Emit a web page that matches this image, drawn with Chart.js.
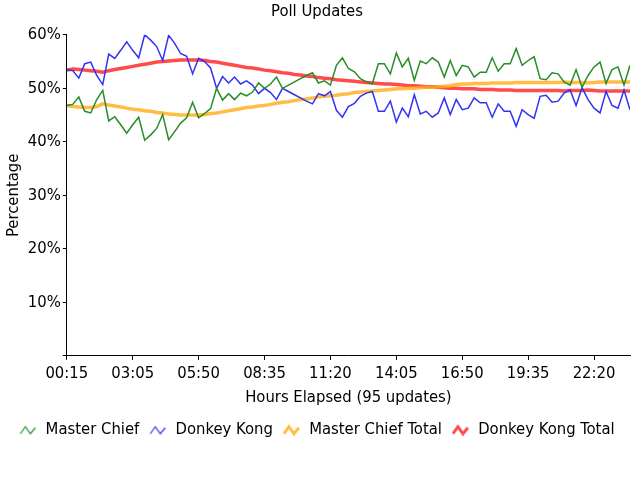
<!DOCTYPE html>
<html>
<head>
<meta charset="utf-8">
<script src="https://cdn.jsdelivr.net/npm/chart.js@4/dist/chart.umd.min.js"></script>
<style>
  html, body { margin: 0; padding: 0; background: #fff; }
  #wrap { width: 640px; height: 480px; }
</style>
</head>
<body>
<div id="wrap"><canvas id="poll"></canvas></div>
<script>
// tick labels shown every 11 updates
var tickLabels = ["00:15", "03:05", "05:50", "08:35", "11:20", "14:05", "16:50", "19:35", "22:20"];

var masterChief = [
  46.8, 47.0, 48.4, 45.7, 45.4, 47.9, 49.6, 43.9, 44.7, 43.2,
  41.6, 43.2, 44.6, 40.3, 41.3, 42.5, 45.1, 40.4, 41.9, 43.5,
  44.5, 47.4, 44.5, 45.3, 46.2, 50.0, 47.8, 49.0, 47.9, 49.1,
  48.6, 49.3, 51.0, 50.0, 50.8, 52.1, 50.0, 50.6, 51.2, 51.8,
  52.4, 52.9, 51.0, 51.4, 50.6, 54.3, 55.7, 53.7, 53.1, 51.8,
  51.2, 50.9, 54.6, 54.6, 52.7, 56.6, 54.0, 55.6, 51.5, 55.1,
  54.6, 55.7, 54.9, 52.1, 55.2, 52.4, 54.3, 54.0, 52.1, 53.0,
  53.0, 55.7, 53.2, 54.6, 54.6, 57.4, 54.3, 55.2, 55.9, 51.8,
  51.6, 52.9, 52.7, 51.2, 50.6, 53.5, 50.2, 52.4, 54.0, 54.9,
  50.9, 53.5, 54.0, 50.6, 54.3
];

var donkeyKong = [
  53.5, 53.3, 51.9, 54.6, 54.9, 52.4, 50.7, 56.4, 55.6, 57.1,
  58.7, 57.1, 55.7, 60.0, 59.0, 57.8, 55.2, 59.9, 58.4, 56.5,
  56.0, 52.7, 55.6, 55.0, 53.8, 50.0, 52.2, 51.0, 52.1, 50.8,
  51.4, 50.6, 49.0, 50.0, 49.2, 47.9, 50.0, 49.4, 48.8, 48.2,
  47.6, 47.1, 49.0, 48.6, 49.4, 45.9, 44.6, 46.6, 47.2, 48.5,
  49.1, 49.4, 45.7, 45.7, 47.6, 43.7, 46.3, 44.7, 48.8, 45.2,
  45.7, 44.6, 45.4, 48.2, 45.1, 47.9, 46.0, 46.3, 48.2, 47.3,
  47.3, 44.6, 47.1, 45.7, 45.7, 42.9, 46.0, 45.1, 44.4, 48.5,
  48.7, 47.4, 47.6, 49.1, 49.7, 46.8, 50.1, 47.9, 46.3, 45.4,
  49.4, 46.8, 46.3, 49.7, 46.0
];

var masterChiefTotal = [
  46.8, 46.6, 46.5, 46.4, 46.4, 46.6, 47.1, 46.9, 46.7, 46.5,
  46.3, 46.1, 46.0, 45.8, 45.7, 45.5, 45.4, 45.2, 45.1, 45.0,
  45.0, 45.0, 45.0, 45.1, 45.3, 45.4, 45.6, 45.8, 46.0, 46.2,
  46.4, 46.5, 46.7, 46.8, 47.0, 47.2, 47.4, 47.5, 47.7, 47.9,
  48.0, 48.2, 48.4, 48.5, 48.6, 48.7, 48.9, 49.0, 49.2, 49.3,
  49.4, 49.5, 49.6, 49.7, 49.8, 49.9, 49.9, 50.0, 50.0, 50.1,
  50.2, 50.2, 50.3, 50.4, 50.5, 50.7, 50.8, 50.8, 50.9, 50.9,
  50.9, 51.0, 51.0, 51.0, 51.0, 51.1, 51.1, 51.1, 51.1, 51.1,
  51.1, 51.1, 51.1, 51.2, 51.1, 51.1, 51.1, 51.0, 51.1, 51.2,
  51.2, 51.2, 51.2, 51.2, 51.2
];

var donkeyKongTotal = [
  53.4, 53.6, 53.5, 53.4, 53.3, 53.2, 53.0, 53.3, 53.5, 53.7,
  53.9, 54.1, 54.3, 54.5, 54.7, 54.9, 55.0, 55.1, 55.2, 55.3,
  55.3, 55.3, 55.3, 55.2, 55.0, 54.9, 54.7, 54.5, 54.3, 54.1,
  53.9, 53.8, 53.6, 53.4, 53.3, 53.1, 52.9, 52.8, 52.6, 52.5,
  52.3, 52.2, 52.0, 51.9, 51.8, 51.6, 51.5, 51.4, 51.3, 51.2,
  51.1, 51.0, 50.9, 50.8, 50.8, 50.7, 50.6, 50.5, 50.5, 50.4,
  50.3, 50.3, 50.2, 50.1, 50.0, 50.0, 49.9, 49.9, 49.9, 49.8,
  49.8, 49.8, 49.7, 49.7, 49.7, 49.6, 49.6, 49.6, 49.6, 49.6,
  49.6, 49.6, 49.6, 49.5, 49.6, 49.6, 49.6, 49.7, 49.6, 49.5,
  49.5, 49.5, 49.5, 49.5, 49.5
];

var FONT = "'Liberation Sans Narrow', 'DejaVu Sans Condensed', 'Arial Narrow', sans-serif";
var FS = 16.5;

function zigzag(color, width) {
  var c = document.createElement('canvas');
  c.width = 18; c.height = 12;
  var g = c.getContext('2d');
  g.strokeStyle = color;
  g.lineWidth = width;
  g.lineJoin = 'miter';
  g.beginPath();
  g.moveTo(1, 10);
  g.lineTo(6, 3);
  g.lineTo(11, 10);
  g.lineTo(16, 4);
  g.stroke();
  return c;
}

function points(arr) {
  return arr.map(function (v, i) { return { x: i, y: v }; });
}

var green = 'rgb(40,140,40)';
var blue = 'rgb(50,50,245)';
var orange = 'rgba(255,172,20,0.8)';
var red = 'rgba(255,30,30,0.8)';

new Chart(document.getElementById("poll"), {
  type: 'line',
  data: {
    datasets: [
      { label: 'Master Chief', data: points(masterChief), borderColor: green,
        borderWidth: 1.5, pointRadius: 0, pointStyle: zigzag(green, 1.2), tension: 0 },
      { label: 'Donkey Kong', data: points(donkeyKong), borderColor: blue,
        borderWidth: 1.5, pointRadius: 0, pointStyle: zigzag(blue, 1.2), tension: 0 },
      { label: 'Master Chief Total', data: points(masterChiefTotal), borderColor: orange,
        borderWidth: 3.5, pointRadius: 0, pointStyle: zigzag(orange, 3), tension: 0 },
      { label: 'Donkey Kong Total', data: points(donkeyKongTotal), borderColor: red,
        borderWidth: 3.5, pointRadius: 0, pointStyle: zigzag(red, 3), tension: 0 }
    ]
  },
  options: {
    responsive: true,
    maintainAspectRatio: false,
    animation: false,
    layout: { padding: { left: 4, right: 10, top: 0, bottom: 32 } },
    plugins: {
      title: {
        display: true,
        text: 'Poll Updates',
        color: '#000',
        font: { family: FONT, size: FS, weight: 'normal' },
        padding: { top: 2, bottom: 13 }
      },
      legend: {
        position: 'bottom',
        labels: {
          usePointStyle: true,
          pointStyleWidth: 18,
          color: '#000',
          font: { family: FONT, size: FS },
          padding: 10
        }
      },
      tooltip: { enabled: false }
    },
    scales: {
      x: {
        type: 'linear',
        min: 0,
        max: 94,
        border: { color: '#000', width: 1 },
        grid: { drawOnChartArea: false, drawTicks: true, tickLength: 4, color: '#000' },
        ticks: {
          stepSize: 11,
          includeBounds: false,
          autoSkip: false,
          maxRotation: 0,
          color: '#000',
          padding: 4,
          font: { family: FONT, size: FS },
          callback: function (v) { return tickLabels[v / 11]; }
        },
        title: {
          display: true,
          text: 'Hours Elapsed (95 updates)',
          color: '#000',
          font: { family: FONT, size: FS },
          padding: { top: 0, bottom: 4 }
        }
      },
      y: {
        min: 0,
        max: 60,
        border: { color: '#000', width: 1 },
        grid: { drawOnChartArea: false, drawTicks: true, tickLength: 4, color: '#000' },
        ticks: {
          stepSize: 10,
          color: '#000',
          padding: 2,
          font: { family: FONT, size: FS },
          callback: function (v) { return v === 0 ? '' : v + '%'; }
        },
        title: {
          display: true,
          text: 'Percentage',
          color: '#000',
          font: { family: FONT, size: FS },
          padding: { top: 0, bottom: 2 }
        }
      }
    }
  }
});
</script>
</body>
</html>
